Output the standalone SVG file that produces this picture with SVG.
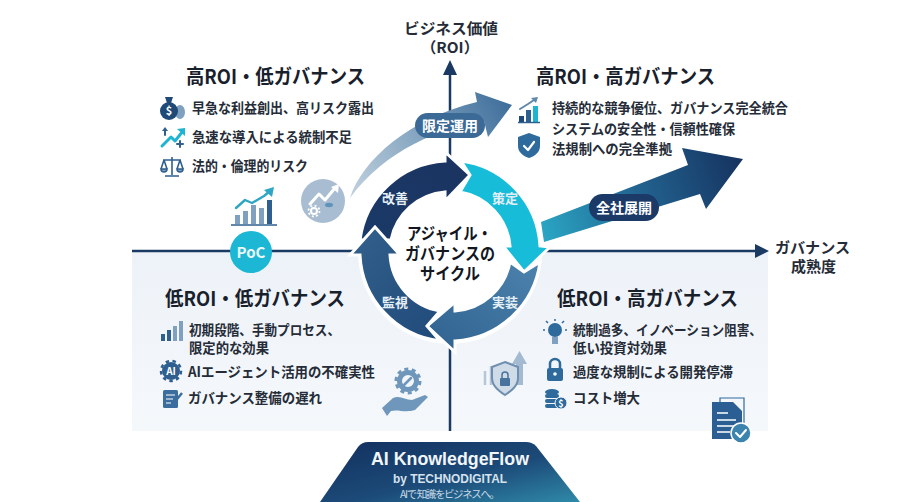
<svg xmlns="http://www.w3.org/2000/svg" width="900" height="502" viewBox="0 0 900 502">
<style>
text{font-family:"Noto Sans CJK JP","Noto Sans",sans-serif;fill:#1c2430}
.t{font-size:20px;font-weight:700;fill:#18202c}
.b{font-size:14px;font-weight:700;fill:#252c38}
.ax{font-size:15px;font-weight:700;fill:#252c38}
.w{fill:#e4eff6;font-size:13px;font-weight:700;text-anchor:middle}
.c{font-size:16.500px;font-weight:700;fill:#11161f}
.pill{fill:#fff;font-size:14px;font-weight:700;text-anchor:middle}
.seg{stroke:#fff;stroke-width:3;stroke-linejoin:miter}
.m{fill:#2f5f8f}.l{fill:#7fa0bf}.d{fill:#1f4a78}.cy{fill:#1fb5d2}
.ln{fill:none;stroke-linecap:round;stroke-linejoin:round}
</style>
<defs>
<linearGradient id="bgL" x1="0" y1="0" x2="0" y2="1"><stop offset="0" stop-color="#edf2f8"/><stop offset="1" stop-color="#f5f8fb"/></linearGradient>
<linearGradient id="arrA" x1="350" y1="200" x2="510" y2="105" gradientUnits="userSpaceOnUse"><stop offset="0" stop-color="#c2d2df"/><stop offset=".45" stop-color="#8aa9c3"/><stop offset="1" stop-color="#3f6f9c"/></linearGradient>
<linearGradient id="arrB" x1="541" y1="232" x2="743" y2="160" gradientUnits="userSpaceOnUse"><stop offset="0" stop-color="#2aa6c4"/><stop offset=".5" stop-color="#22628f"/><stop offset="1" stop-color="#16325f"/></linearGradient>
<linearGradient id="g1" x1="0" y1="1" x2="1" y2="0"><stop offset="0" stop-color="#1a3a68"/><stop offset="1" stop-color="#1b3360"/></linearGradient>
<linearGradient id="g3" x1="1" y1="0" x2="0" y2="1"><stop offset="0" stop-color="#4c83ad"/><stop offset="1" stop-color="#2f618f"/></linearGradient>
<linearGradient id="g4" x1="1" y1="1" x2="0" y2="0"><stop offset="0" stop-color="#1f4a7a"/><stop offset="1" stop-color="#33608c"/></linearGradient>
<linearGradient id="foot" x1="0" y1="0" x2="1" y2="1"><stop offset="0" stop-color="#13305e"/><stop offset=".55" stop-color="#1c4a78"/><stop offset="1" stop-color="#2f8aa8"/></linearGradient>
</defs>
<rect width="900" height="502" fill="#fff"/>
<rect id="quad-bg" x="132" y="251" width="636" height="180" fill="url(#bgL)"/>

<g id="connectors">
<path d="M450,431V68" stroke="#1a3a63" stroke-width="2.500" fill="none"/>
<path d="M450,60L457,75H443Z" fill="#1a3a63"/>
<path d="M132,251H762" stroke="#1a3a63" stroke-width="2.500" fill="none"/>
<path d="M769,251L755,244V258Z" fill="#1a3a63"/>
<path d="M350,198C362,160 410,118 477,102L475,92L512,105L488,137L484,121C440,128 385,150 350,198Z" fill="url(#arrA)"/>
<path d="M541,222L688,165L682,148L743,159L706,209L700,194L544,242Z" fill="url(#arrB)"/>
</g>

<g id="cycle">
<circle cx="450" cy="252" r="92" fill="#fff"/>
<g id="step-kaizen"><path class="seg" fill="url(#g1)" d="M360,240A91,91 0 0 1 445,161L445,152L470,175L445,201L445,192A60,60 0 0 0 391,240Z"/><text class="w" x="395" y="203">改善</text></g>
<g id="step-sakutei"><path class="seg" fill="#17bcd9" d="M461,161A91,91 0 0 1 540,246L550,247L524,272L503,246L510,246A60,60 0 0 0 460,192L470,175Z"/><text class="w" x="505" y="203">策定</text></g>
<g id="step-jisso"><path class="seg" fill="url(#g3)" d="M540,262A91,91 0 0 1 455,341L455,352L427,326L455,302L455,311A60,60 0 0 0 510,262L524,272Z"/><text class="w" x="505" y="307">実装</text></g>
<g id="step-kanshi"><path class="seg" fill="url(#g4)" d="M440,341A91,91 0 0 1 360,255L350,255L375,227L400,255L390,255A60,60 0 0 0 440,311L427,326Z"/><text class="w" x="395" y="307">監視</text></g>
<g id="cycle-center"><text class="c" x="407" y="240" textLength="85" lengthAdjust="spacingAndGlyphs">アジャイル・</text><text class="c" x="405" y="260" textLength="90" lengthAdjust="spacingAndGlyphs">ガバナンスの</text><text class="c" x="420" y="280" textLength="60" lengthAdjust="spacingAndGlyphs">サイクル</text></g>
</g>

<g id="axis-y"><text class="ax" x="404" y="34" textLength="94" lengthAdjust="spacingAndGlyphs">ビジネス価値</text><text class="ax" x="421" y="53" textLength="58" lengthAdjust="spacingAndGlyphs">（ROI）</text></g>
<g id="axis-x"><text class="ax" x="775" y="253" textLength="75" lengthAdjust="spacingAndGlyphs">ガバナンス</text><text class="ax" x="791" y="272">成熟度</text></g>

<g id="q-high-low">
<text class="t" x="186" y="84" textLength="179" lengthAdjust="spacingAndGlyphs">高ROI・低ガバナンス</text>
<text class="b" x="192" y="113" textLength="182" lengthAdjust="spacingAndGlyphs">早急な利益創出、高リスク露出</text>
<text class="b" x="192" y="142" textLength="160" lengthAdjust="spacingAndGlyphs">急速な導入による統制不足</text>
<text class="b" x="192" y="171" textLength="116" lengthAdjust="spacingAndGlyphs">法的・倫理的リスク</text>
<g id="ic-money"><ellipse class="l" cx="180" cy="112" rx="5" ry="7"/><circle class="d" cx="169" cy="111" r="9"/><path class="d" d="M165,97L173,97L171,103H167Z"/><text x="169" y="115" font-size="11" font-weight="700" text-anchor="middle" style="fill:#fff">$</text></g>
<g id="ic-trend"><path class="ln" stroke="#1fb5d2" stroke-width="3" d="M162,146L171,137L175,141L183,131"/><path class="cy" d="M177,129L185,128L185,136Z"/><path class="ln" stroke="#2f5f8f" stroke-width="2" d="M165,135V130M180,147V141M177,144H183"/><path class="m" d="M162,131L165,127L168,131Z"/></g>
<g id="ic-scale" fill="none" stroke="#2f5f8f" stroke-width="1.600"><path d="M172,157V175M165,176H179M163,160H181M164,160L161,169M164,160L167,169M180,160L177,169M180,160L183,169"/><path class="l" d="M161,169A3,3 0 0 0 167,169ZM177,169A3,3 0 0 0 183,169Z"/></g>
<g id="ic-chart"><rect class="l" x="235" y="215" width="5" height="9"/><rect class="l" x="243" y="211" width="5" height="13"/><rect class="l" x="251" y="205" width="5" height="19"/><rect class="l" x="259" y="208" width="5" height="16"/><rect class="m" x="267" y="200" width="5" height="24"/><path d="M231,225H277" stroke="#2f5f8f" stroke-width="1.500"/><path class="ln" stroke="#2fa6c4" stroke-width="2.400" d="M236,208L245,200L252,203L264,196L270,191"/><path d="M264,190L274,187L272,197Z" fill="#2fa6c4"/></g>
<g id="ic-round"><circle cx="323" cy="201" r="22" fill="#a9bdd2"/><path class="ln" stroke="#fff" stroke-width="3" d="M310,204L319,194L325,200L335,188"/><path d="M331,187L339,184L338,193Z" fill="#fff"/><circle cx="314" cy="211" r="3" fill="none" stroke="#fff" stroke-width="2"/><circle cx="314" cy="211" r="5.500" fill="none" stroke="#fff" stroke-width="1.800" stroke-dasharray="2 2.300"/><ellipse cx="329" cy="205" rx="4" ry="2.200" fill="#5f93bb"/></g>
</g>

<g id="poc"><circle cx="251" cy="252" r="21" fill="#1cb7d4"/><text x="251" y="258" font-size="15" font-weight="700" text-anchor="middle" style="fill:#eaf8fb">PoC</text></g>

<g id="q-high-high">
<text class="t" x="536" y="84" textLength="179" lengthAdjust="spacingAndGlyphs">高ROI・高ガバナンス</text>
<text class="b" x="552" y="113" textLength="236" lengthAdjust="spacingAndGlyphs">持続的な競争優位、ガバナンス完全統合</text>
<text class="b" x="552" y="134" textLength="183" lengthAdjust="spacingAndGlyphs">システムの安全性・信頼性確保</text>
<text class="b" x="552" y="154" textLength="120" lengthAdjust="spacingAndGlyphs">法規制への完全準拠</text>
<g id="ic-bars"><rect class="d" x="519" y="116" width="5" height="6"/><rect class="m" x="526" y="110" width="5" height="12"/><rect class="cy" x="533" y="106" width="5" height="16"/><path d="M518,122.500H540" stroke="#2f5f8f" stroke-width="1.500"/><path class="ln" stroke="#5f88ab" stroke-width="2" d="M520,109L528,104L534,100"/><path d="M531,98L538,97L536,103Z" fill="#5f88ab"/></g>
<g id="ic-shield"><path d="M529,133L540,137V146C540,152 535,156 529,158C523,156 518,152 518,146V137Z" fill="#2f6a9c"/><path class="ln" stroke="#fff" stroke-width="2.200" d="M524,146L528,150L534,142"/></g>
<g id="pill-zensha"><rect x="589" y="194" width="70" height="27" rx="13.500" fill="#1b3a68"/><text class="pill" x="624" y="212.500">全社展開</text></g>
</g>

<g id="pill-gentei"><rect x="415" y="113" width="70" height="25" rx="12.500" fill="#3b6a97"/><text class="pill" x="450" y="131">限定運用</text></g>

<g id="q-low-low">
<text class="t" x="165" y="306" textLength="180" lengthAdjust="spacingAndGlyphs">低ROI・低ガバナンス</text>
<text class="b" x="189" y="335" textLength="151" lengthAdjust="spacingAndGlyphs">初期段階、手動プロセス、</text>
<text class="b" x="189" y="353" textLength="80" lengthAdjust="spacingAndGlyphs">限定的な効果</text>
<text class="b" x="188" y="377" textLength="187" lengthAdjust="spacingAndGlyphs">AIエージェント活用の不確実性</text>
<text class="b" x="188" y="403" textLength="134" lengthAdjust="spacingAndGlyphs">ガバナンス整備の遅れ</text>
<g id="ic-lowbars"><rect class="m" x="161" y="334" width="4" height="7"/><rect class="m" x="167" y="330" width="4" height="11"/><rect class="l" x="173" y="326" width="4" height="15"/><rect class="l" x="179" y="321" width="4" height="20"/></g>
<g id="ic-ai"><circle cx="171" cy="371" r="9" fill="#2f5f8f"/><circle cx="171" cy="371" r="10" fill="none" stroke="#2f5f8f" stroke-width="2.500" stroke-dasharray="3.500 3.400"/><text x="171" y="375" font-size="10" font-weight="700" text-anchor="middle" style="fill:#fff">AI</text></g>
<g id="ic-clip"><rect x="163" y="390" width="15" height="18" rx="1.500" fill="#3b6e9e"/><path d="M166,395H175M166,399H173M166,403H171" stroke="#fff" stroke-width="1.200"/><path d="M173,404L182,393" stroke="#3b6e9e" stroke-width="2.500"/></g>
<g id="ic-hand"><circle cx="408" cy="381" r="8.500" fill="none" stroke="#6f97bb" stroke-width="5"/><circle cx="408" cy="381" r="12" fill="none" stroke="#6f97bb" stroke-width="3" stroke-dasharray="4 3.500"/><path class="ln" stroke="#6f97bb" stroke-width="2.500" d="M403,386L411,378"/><path d="M382,408L393,398C400,395 405,400 412,400L425,395L428,397L415,410C405,413 398,409 391,411L387,416Z" fill="#6f97bb"/></g>
</g>

<g id="q-low-high">
<text class="t" x="557" y="306" textLength="181" lengthAdjust="spacingAndGlyphs">低ROI・高ガバナンス</text>
<text class="b" x="573" y="335" textLength="189" lengthAdjust="spacingAndGlyphs">統制過多、イノベーション阻害、</text>
<text class="b" x="573" y="353" textLength="94" lengthAdjust="spacingAndGlyphs">低い投資対効果</text>
<text class="b" x="573" y="377" textLength="160" lengthAdjust="spacingAndGlyphs">過度な規制による開発停滞</text>
<text class="b" x="573" y="403" textLength="67" lengthAdjust="spacingAndGlyphs">コスト増大</text>
<g id="ic-bulb"><circle cx="555" cy="330" r="7" fill="#2f6a9c"/><rect x="552" y="337" width="6" height="7" fill="#7fa0bf"/><path d="M555,319V321M545,330H543M567,330H565M548,323L546,321M562,323L564,321" stroke="#2f6a9c" stroke-width="1.500"/></g>
<g id="ic-lock"><rect x="547" y="368" width="16" height="13" rx="2" fill="#2f6a9c"/><path d="M550,368V364A5,5 0 0 1 560,364V368" fill="none" stroke="#2f6a9c" stroke-width="2.500"/><circle cx="555" cy="374" r="1.800" fill="#fff"/></g>
<g id="ic-coins"><ellipse cx="552" cy="392" rx="7" ry="3" fill="#2f6a9c"/><rect x="545" y="394" width="14" height="4" rx="2" fill="#2f6a9c"/><rect x="545" y="399" width="14" height="4" rx="2" fill="#2f6a9c"/><rect x="545" y="404" width="14" height="4" rx="2" fill="#2f6a9c"/><circle cx="561" cy="403" r="6" fill="#2f6a9c" stroke="#f2f6fa"/><text x="561" y="407" font-size="9" font-weight="700" text-anchor="middle" style="fill:#fff">$</text></g>
<g id="ic-shield2"><path d="M516,385V364H512L519.500,351L527,364H523V385Z" fill="#a3bad1"/><path d="M485,385V371M491,385V366" stroke="#b4c6d8" stroke-width="2.500"/><path d="M505,362L518,367V378C518,386 511,391 505,395C499,391 492,386 492,378V367Z" fill="#cfdbe7" stroke="#6f8fb0" stroke-width="2"/><rect x="500" y="378" width="10" height="8" rx="1" fill="#47739d"/><path d="M502,378V375A3,3 0 0 1 508,375V378" fill="none" stroke="#47739d" stroke-width="1.500"/></g>
<g id="ic-doc"><path d="M720,402V398H744V434" fill="none" stroke="#2f6a9c" stroke-width="1.200"/><path d="M712,402H733L742,411V439H712Z" fill="#2b5f93"/><path d="M717,413H728M717,420H736M717,426H736M717,432H730" stroke="#fff" stroke-width="1.300"/><circle cx="741" cy="433" r="10" fill="#3c84ad" stroke="#fff" stroke-width="1.500"/><path class="ln" stroke="#fff" stroke-width="2" d="M736,433L740,437L746,430"/></g>
</g>

<g id="footer-badge">
<path d="M320,502L358,447Q362,442 368,442H526Q532,442 536,446L580,502Z" fill="url(#foot)"/>
<text x="371" y="465" font-size="18" font-weight="700" textLength="158" lengthAdjust="spacingAndGlyphs" style="font-family:'Liberation Sans',sans-serif;fill:#f2f6fa">AI KnowledgeFlow</text>
<text x="393" y="483" font-size="13" font-weight="700" textLength="114" lengthAdjust="spacingAndGlyphs" style="font-family:'Liberation Sans',sans-serif;fill:#d5e2ee">by TECHNODIGITAL</text>
<text x="400" y="498" font-size="10.500" textLength="100" style="fill:#c5d8e6">AIで 知識をビジネスへ。</text>
</g>
</svg>
